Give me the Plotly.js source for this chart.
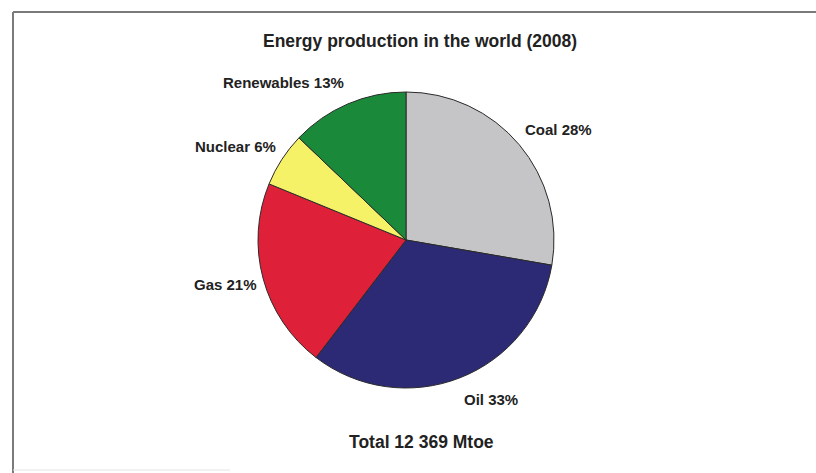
<!DOCTYPE html>
<html>
<head>
<meta charset="utf-8">
<script src="https://cdn.plot.ly/plotly-3.0.1.min.js"></script>
<style>
  html, body { margin: 0; padding: 0; background: #ffffff; }
  #chart { width: 816px; height: 473px; }
</style>
</head>
<body>
<div id="chart"></div>
<script>
// World energy production by source, 2008 (share of total, %)
const sources = ['Coal', 'Oil', 'Gas', 'Nuclear', 'Renewables'];
const shares = [28, 33, 21, 6, 13];
const sliceColors = ['#c5c5c8', '#2c2a74', '#de2039', '#f6f268', '#1a8a3a'];
const chartTitle = 'Energy production in the world (2008)';
const totalNote = 'Total 12 369 Mtoe';

const W = 816, H = 473;
// pie placement in pixels
const cx = 406, cy = 240, R = 148;
const dom = {
  x: [(cx - R) / W, (cx + R) / W],
  y: [(H - cy - R) / H, (H - cy + R) / H]
};

const textFont = { family: 'Liberation Sans, Arial, sans-serif', color: '#222222', weight: 'bold' };

// outside labels: horizontal edge just beyond the rim, vertical centre a bit further out
const sum = shares.reduce((a, b) => a + b, 0);
let acc = 0;
const labelNotes = sources.map((s, i) => {
  const mid = (acc + shares[i] / 2) / sum * 2 * Math.PI;
  acc += shares[i];
  const sx = Math.sin(mid), cyv = Math.cos(mid);
  const px = cx + 1.03 * R * sx;
  const py = cy - 1.155 * R * cyv;
  return {
    text: s + ' ' + shares[i] + '%',
    xref: 'paper', yref: 'paper',
    x: px / W, y: 1 - py / H,
    xanchor: sx >= 0 ? 'left' : 'right',
    yanchor: 'middle',
    showarrow: false,
    font: Object.assign({ size: 15 }, textFont)
  };
});

labelNotes.push({
  text: totalNote,
  xref: 'paper', yref: 'paper',
  x: 421 / W, y: 1 - 442 / H,
  xanchor: 'center', yanchor: 'middle',
  showarrow: false,
  font: Object.assign({ size: 17.5 }, textFont)
});

const trace = {
  type: 'pie',
  labels: sources,
  values: shares,
  sort: false,
  direction: 'clockwise',
  rotation: 0,
  textinfo: 'none',
  hoverinfo: 'skip',
  domain: dom,
  marker: { colors: sliceColors, line: { color: '#2a2a2a', width: 1 } }
};

const layout = {
  width: W, height: H,
  margin: { l: 0, r: 0, t: 0, b: 0 },
  paper_bgcolor: '#ffffff',
  plot_bgcolor: '#ffffff',
  showlegend: false,
  title: {
    text: chartTitle,
    x: 420 / W, xanchor: 'center',
    y: 1 - 41 / H, yanchor: 'middle',
    font: Object.assign({ size: 17.5 }, textFont)
  },
  annotations: labelNotes,
  shapes: [
    // frame: top and left edges
    { type: 'line', xref: 'paper', yref: 'paper', x0: 13 / W, x1: 1.01, y0: 1 - 12 / H, y1: 1 - 12 / H,
      line: { color: '#7a7a7a', width: 2 } },
    { type: 'line', xref: 'paper', yref: 'paper', x0: 13 / W, x1: 13 / W, y0: 1 - 12 / H, y1: -0.01,
      line: { color: '#7a7a7a', width: 2 } },
    // faint bottom edge
    { type: 'line', xref: 'paper', yref: 'paper', x0: 13 / W, x1: 230 / W, y0: 1 - 470 / H, y1: 1 - 470 / H,
      line: { color: '#e4e4e4', width: 1 } }
  ]
};

Plotly.newPlot('chart', [trace], layout, { staticPlot: true, displayModeBar: false });
</script>
</body>
</html>
